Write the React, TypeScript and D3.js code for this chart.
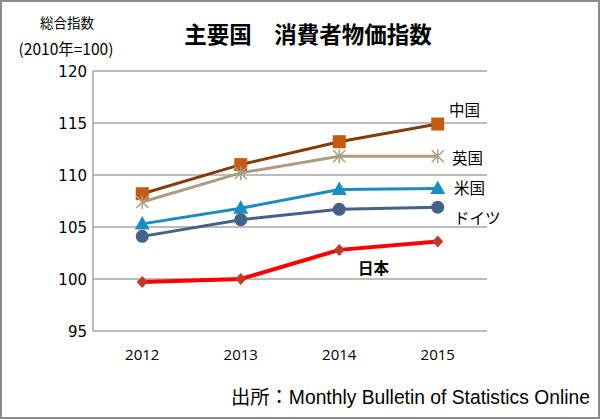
import React from "react";
import * as d3 from "d3";

const years = ["2012", "2013", "2014", "2015"];
const yTicks = [95, 100, 105, 110, 115, 120];
const china = [108.2, 111.0, 113.2, 114.9];
const uk = [107.4, 110.2, 111.8, 111.8];
const us = [105.3, 106.8, 108.6, 108.7];
const germany = [104.1, 105.7, 106.7, 106.9];
const japan = [99.7, 100.0, 102.8, 103.6];

const seriesNames = ["中国", "英国", "米国", "ドイツ", "日本"];

const W = 600, H = 419;
const left = 93, right = 487, top = 71, bottom = 331;
const jp = "'Noto Sans CJK JP', 'Noto Sans', sans-serif";
const num = "'Open Sans', 'Noto Sans', sans-serif";

export default function App() {
  const x = d3.scaleBand().domain(years).range([left, right]);
  const y = d3.scaleLinear().domain([95, 120]).range([bottom, top]);
  const cx = (yr: string) => (x(yr) as number) + x.bandwidth() / 2;
  const line = d3.line<number>().x((_, i) => cx(years[i])).y((v) => y(v));

  const series = [
    { name: seriesNames[0], data: china, line: "#843C0C", marker: "square", fill: "#C55A11", w: 3 },
    { name: seriesNames[1], data: uk, line: "#AD9C80", marker: "star", fill: "#AD9C80", w: 3 },
    { name: seriesNames[2], data: us, line: "#1B8CC0", marker: "tri", fill: "#1B8CC0", w: 3 },
    { name: seriesNames[3], data: germany, line: "#44618C", marker: "circle", fill: "#44618C", w: 3 },
    { name: seriesNames[4], data: japan, line: "#FF0000", marker: "diamond", fill: "#C0392B", w: 4 },
  ];

  const marker = (s: any, v: number, i: number) => {
    const px = cx(years[i]), py = y(v);
    const key = s.name + i;
    if (s.marker === "square")
      return <rect key={key} x={px - 6.5} y={py - 6.5} width={13} height={13} fill={s.fill} />;
    if (s.marker === "circle")
      return <circle key={key} cx={px} cy={py} r={6.5} fill={s.fill} />;
    if (s.marker === "tri")
      return <path key={key} d={`M${px},${py - 8}L${px + 7.5},${py + 5.5}L${px - 7.5},${py + 5.5}Z`} fill={s.fill} />;
    if (s.marker === "diamond")
      return <path key={key} d={`M${px},${py - 6}L${px + 5.5},${py}L${px},${py + 6}L${px - 5.5},${py}Z`} fill={s.fill} />;
    return (
      <g key={key} stroke={s.fill} strokeWidth={1.5}>
        <line x1={px - 6} y1={py - 6} x2={px + 6} y2={py + 6} />
        <line x1={px - 6} y1={py + 6} x2={px + 6} y2={py - 6} />
        <line x1={px} y1={py - 7} x2={px} y2={py + 7} />
      </g>
    );
  };

  const labels = [
    { name: seriesNames[0], x: 449, y: 116, bold: false },
    { name: seriesNames[1], x: 452, y: 164, bold: false },
    { name: seriesNames[2], x: 454, y: 194, bold: false },
    { name: seriesNames[3], x: 454, y: 224, bold: false },
    { name: seriesNames[4], x: 358, y: 274, bold: true },
  ];

  return (
    <svg width={W} height={H} style={{ position: "absolute", left: 0, top: 0 }}>
      <rect x={1} y={1} width={W - 2} height={H - 2} fill="#fff" stroke="#8c8c8c" strokeWidth={2} />
      <text x={308} y={43} textAnchor="middle" fontFamily={jp} fontWeight="bold" fontSize={22.5} fill="#000">
        主要国　消費者物価指数
      </text>
      <text x={67} y={28} textAnchor="middle" fontFamily={jp} fontSize={13.5} fill="#000">総合指数</text>
      <text x={66} y={55} textAnchor="middle" fontFamily={jp} fontSize={15.5} fill="#000">(2010年=100)</text>
      {yTicks.map((t) => (
        <g key={t}>
          {t !== 95 && <line x1={left} x2={right} y1={y(t)} y2={y(t)} stroke="#a6a6a6" strokeWidth={1.5} />}
          <text x={87} y={y(t) + 5.5} textAnchor="end" fontFamily="'DejaVu Sans', sans-serif" fontSize={15} fill="#000">{t}</text>
        </g>
      ))}
      <line x1={left} x2={right} y1={bottom} y2={bottom} stroke="#a6a6a6" strokeWidth={1.5} />
      <line x1={left} x2={left} y1={top} y2={bottom} stroke="#a6a6a6" strokeWidth={1.5} />
      {years.map((yr) => (
        <text key={yr} x={cx(yr)} y={360} textAnchor="middle" fontFamily={num} fontSize={15} fill="#000">{yr}</text>
      ))}
      {series.map((s) => (
        <g key={s.name}>
          <path d={line(s.data) as string} fill="none" stroke={s.line} strokeWidth={s.w} />
          {s.data.map((v, i) => marker(s, v, i))}
        </g>
      ))}
      {labels.map((l) => (
        <text key={l.name} x={l.x} y={l.y} fontFamily={jp} fontSize={15.5} fontWeight={l.bold ? "bold" : "normal"} fill="#000">{l.name}</text>
      ))}
      <text x={590} y={404} textAnchor="end" fontFamily={jp} fontSize={19.3} fill="#000">
        出所：<tspan fontFamily="'Liberation Sans', Arial, sans-serif">Monthly Bulletin of Statistics Online</tspan>
      </text>
    </svg>
  );
}
